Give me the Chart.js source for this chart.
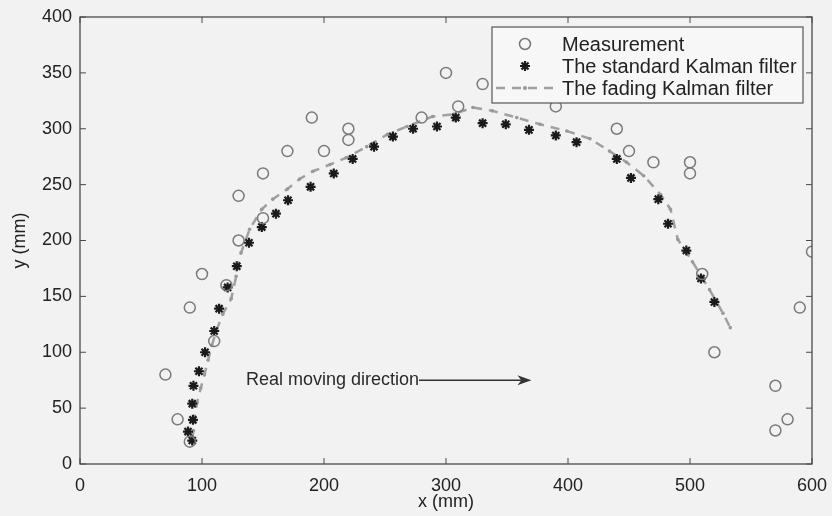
<!DOCTYPE html>
<html lang="en">
<head>
<meta charset="UTF-8">
<title>Kalman filter tracking</title>
<script src="https://cdn.jsdelivr.net/npm/chart.js"></script>
<style>
  html, body { margin: 0; padding: 0; background: #f2f2f2; }
  #wrap { width: 832px; height: 516px; }
</style>
</head>
<body>
<div id="wrap"><canvas id="trackChart"></canvas></div>
<script>
  // measured positions (mm)
  const measX = [90, 80, 70, 90, 100, 110, 120, 130, 130, 150, 150, 170, 190, 200, 220, 220, 280, 300, 310, 330, 390, 440, 450, 470, 500, 500, 510, 520, 600, 590, 570, 580, 570];
  const measY = [20, 40, 80, 140, 170, 110, 160, 200, 240, 220, 260, 280, 310, 280, 290, 300, 310, 350, 320, 340, 320, 300, 280, 270, 270, 260, 170, 100, 190, 140, 70, 40, 30];

  // standard Kalman filter estimates
  const stdX = [92, 88.5, 92.6, 92, 93, 97.5, 102.5, 110, 114, 121, 128.5, 138.5, 149, 160.6, 170.5, 189, 208, 223.5, 241, 256.5, 273, 292.6, 308, 330, 349, 368, 390, 407, 440, 451.6, 474, 482, 497, 509, 520];
  const stdY = [21, 29, 39.5, 54, 70, 83, 100, 119, 139, 158, 177, 198, 212, 224, 236, 248, 260, 273, 284, 293, 300, 302, 310, 305, 304, 299, 294, 288, 273, 256, 237, 215, 191, 166, 145];

  // fading Kalman filter estimates
  const fadeX = [92, 93, 94, 96, 99, 102, 105, 108, 112, 117, 124, 128, 132, 139, 149, 158, 170, 180, 191, 205, 218, 235, 252, 268, 289, 306, 322, 338, 358, 377, 399, 418, 434, 448, 462, 476, 484, 490, 502, 516, 527, 533];
  const fadeY = [22, 30, 42, 55, 68, 80, 93, 106, 120, 134, 148, 168, 189, 210, 228, 237, 246, 255, 262, 268, 274, 284, 295, 302, 311, 313, 319, 316, 310, 304, 298, 291, 280, 270, 258, 241, 228, 201, 181, 156, 135, 122];

  const xTicks = [0, 100, 200, 300, 400, 500, 600];
  const yTicks = [0, 50, 100, 150, 200, 250, 300, 350, 400];
  const seriesNames = ['Measurement', 'The standard Kalman filter', 'The fading Kalman filter'];
  const arrowLabel = 'Real moving direction';

  function toPoints(xs, ys) {
    return xs.map(function (x, i) { return { x: x, y: ys[i] }; });
  }

  const fontFamily = '"Liberation Sans", Arial, Helvetica, sans-serif';

  // box round the plot with MATLAB style inward ticks
  const framePlugin = {
    id: 'frame',
    afterDraw: function (chart) {
      const ctx = chart.ctx;
      const a = chart.chartArea;
      const xs = chart.scales.x, ys = chart.scales.y;
      ctx.save();
      ctx.strokeStyle = '#4a4a4a';
      ctx.lineWidth = 1.3;
      ctx.strokeRect(a.left, a.top, a.right - a.left, a.bottom - a.top);
      ctx.lineWidth = 1;
      ctx.beginPath();
      xTicks.forEach(function (v) {
        const px = xs.getPixelForValue(v);
        ctx.moveTo(px, a.bottom); ctx.lineTo(px, a.bottom - 6);
        ctx.moveTo(px, a.top); ctx.lineTo(px, a.top + 6);
      });
      yTicks.forEach(function (v) {
        const py = ys.getPixelForValue(v);
        ctx.moveTo(a.left, py); ctx.lineTo(a.left + 6, py);
        ctx.moveTo(a.right, py); ctx.lineTo(a.right - 6, py);
      });
      ctx.stroke();
      ctx.restore();
    }
  };

  // text + arrow inside the plot
  const arrowPlugin = {
    id: 'arrowNote',
    afterDatasetsDraw: function (chart) {
      const ctx = chart.ctx;
      const xs = chart.scales.x, ys = chart.scales.y;
      const tx = xs.getPixelForValue(136);
      const ty = ys.getPixelForValue(75);
      const endX = xs.getPixelForValue(370);
      ctx.save();
      ctx.font = '18px ' + fontFamily;
      ctx.fillStyle = '#2a2a2a';
      ctx.textAlign = 'left';
      ctx.textBaseline = 'middle';
      ctx.fillText(arrowLabel, tx, ty);
      const startX = tx + ctx.measureText(arrowLabel).width;
      ctx.strokeStyle = '#333';
      ctx.lineWidth = 1.5;
      ctx.beginPath();
      ctx.moveTo(startX, ty);
      ctx.lineTo(endX - 4, ty);
      ctx.stroke();
      ctx.fillStyle = '#333';
      ctx.beginPath();
      ctx.moveTo(endX, ty);
      ctx.lineTo(endX - 14, ty - 5);
      ctx.lineTo(endX - 10, ty);
      ctx.lineTo(endX - 14, ty + 5);
      ctx.closePath();
      ctx.fill();
      ctx.restore();
    }
  };

  // legend box in the upper right corner of the plot
  const legendBoxPlugin = {
    id: 'legendBox',
    afterDraw: function (chart) {
      const ctx = chart.ctx;
      const a = chart.chartArea;
      const left = a.right - 320, top = a.top + 10;
      const w = 311, h = 76;
      ctx.save();
      ctx.fillStyle = '#f7f7f7';
      ctx.fillRect(left, top, w, h);
      ctx.strokeStyle = '#555';
      ctx.lineWidth = 1.2;
      ctx.strokeRect(left, top, w, h);

      const rows = [top + 17, top + 39, top + 61];
      const sx = left + 33;
      // circle
      ctx.strokeStyle = '#777';
      ctx.lineWidth = 1.5;
      ctx.beginPath();
      ctx.arc(sx, rows[0], 5.5, 0, Math.PI * 2);
      ctx.stroke();
      // star
      ctx.strokeStyle = '#1a1a1a';
      ctx.lineWidth = 2.2;
      Chart.helpers.drawPoint(ctx, { pointStyle: 'star', radius: 5, rotation: 0, borderWidth: 2.2 }, sx, rows[1]);
      // dashed line
      ctx.strokeStyle = '#a0a0a0';
      ctx.lineWidth = 2.5;
      ctx.setLineDash([9, 7]);
      ctx.beginPath();
      ctx.moveTo(left + 4, rows[2]);
      ctx.lineTo(left + 63, rows[2]);
      ctx.stroke();
      ctx.setLineDash([]);
      ctx.fillStyle = '#999';
      ctx.beginPath();
      ctx.arc(sx, rows[2], 2, 0, Math.PI * 2);
      ctx.fill();

      ctx.font = '20px ' + fontFamily;
      ctx.fillStyle = '#222';
      ctx.textAlign = 'left';
      ctx.textBaseline = 'middle';
      seriesNames.forEach(function (name, i) {
        ctx.fillText(name, left + 70, rows[i] + 1);
      });
      ctx.restore();
    }
  };

  const ctx = document.getElementById('trackChart').getContext('2d');
  const trackChart = new Chart(ctx, {
    type: 'scatter',
    data: {
      datasets: [
        {
          label: seriesNames[0],
          data: toPoints(measX, measY),
          pointStyle: 'circle',
          pointRadius: 5.5,
          borderColor: '#7a7a7a',
          backgroundColor: 'rgba(0,0,0,0)',
          borderWidth: 1.5,
          order: 1
        },
        {
          label: seriesNames[1],
          data: toPoints(stdX, stdY),
          pointStyle: 'star',
          pointRadius: 5,
          borderColor: '#1a1a1a',
          backgroundColor: '#1a1a1a',
          borderWidth: 2.2,
          order: 2
        },
        {
          label: seriesNames[2],
          data: toPoints(fadeX, fadeY),
          showLine: true,
          borderColor: '#a0a0a0',
          borderWidth: 2.5,
          borderDash: [9, 7],
          pointRadius: 1.8,
          pointBackgroundColor: '#999',
          pointBorderWidth: 0,
          order: 3
        }
      ]
    },
    options: {
      responsive: true,
      maintainAspectRatio: false,
      animation: false,
      layout: { padding: { top: 17, right: 20, left: 0, bottom: 0 } },
      plugins: {
        legend: { display: false },
        tooltip: { enabled: false }
      },
      scales: {
        x: {
          type: 'linear',
          min: 0,
          max: 600,
          afterBuildTicks: function (axis) {
            axis.ticks = xTicks.map(function (v) { return { value: v }; });
          },
          afterFit: function (axis) {
            axis.height = 52;
            axis.paddingLeft = 0;
            axis.paddingRight = 0;
          },
          grid: { display: false, drawTicks: false },
          border: { display: false },
          ticks: { color: '#222', padding: 11, font: { size: 18, family: fontFamily } },
          title: { display: true, text: 'x (mm)', color: '#222', padding: { top: 3, bottom: 3 }, font: { size: 18, family: fontFamily } }
        },
        y: {
          type: 'linear',
          min: 0,
          max: 400,
          afterBuildTicks: function (axis) {
            axis.ticks = yTicks.map(function (v) { return { value: v }; });
          },
          afterFit: function (axis) {
            axis.width = 80;
            axis.paddingTop = 0;
            axis.paddingBottom = 0;
          },
          grid: { display: false, drawTicks: false },
          border: { display: false },
          ticks: { color: '#222', padding: 8, font: { size: 18, family: fontFamily } },
          title: { display: true, text: 'y (mm)', color: '#222', padding: { top: 9, bottom: 9 }, font: { size: 18, family: fontFamily } }
        }
      }
    },
    plugins: [framePlugin, arrowPlugin, legendBoxPlugin]
  });
</script>
</body>
</html>
